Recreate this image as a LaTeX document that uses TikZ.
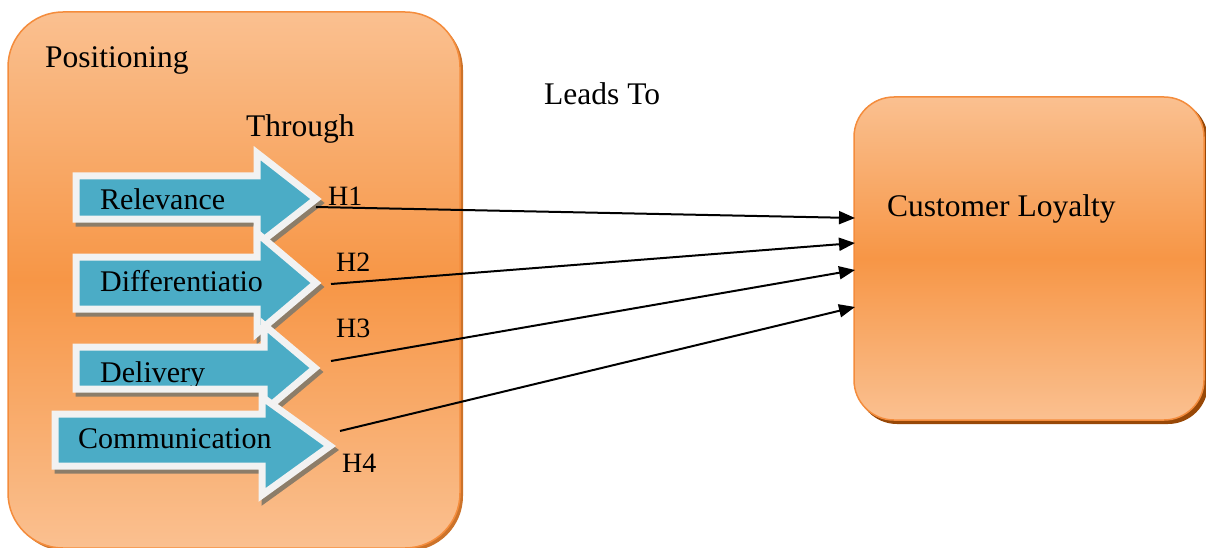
\documentclass[tikz,border=0pt]{standalone}
\usepackage{fontspec}
\setmainfont{Liberation Serif}
\usetikzlibrary{arrows.meta}
\definecolor{lorange}{RGB}{250,192,144}
\definecolor{morange}{RGB}{247,150,70}
\definecolor{borange}{RGB}{244,140,60}
\definecolor{shadowbrown}{RGB}{152,72,7}
\definecolor{arrowblue}{RGB}{75,172,198}
\definecolor{arrowrim}{RGB}{242,242,242}
\definecolor{arrowshadow}{RGB}{140,125,105}
\tikzset{
 panel/.style={draw=borange, line width=1.5pt, top color=lorange, bottom color=lorange, middle color=morange, rectangle},
 blockarrow/.style={draw=arrowrim, fill=arrowblue, line width=7pt, line join=miter},
 blockshadow/.style={draw=arrowshadow, fill=arrowshadow, line width=7pt, line join=miter},
 lbl/.style={font=\fontsize{31.5}{36}\selectfont, inner sep=0pt, anchor=base west},
 albl/.style={font=\fontsize{30}{34}\selectfont, inner sep=0pt, anchor=base west},
 hlbl/.style={font=\fontsize{28}{32}\selectfont, inner sep=0pt, anchor=base west},
 link/.style={line width=2pt, -{Triangle[length=16pt,width=13pt]}},
}
\newcommand\drawblockarrow[8]{%
 \draw[blockshadow, shift={(3,4)}] (#1,#2) -- (#4,#2) -- (#4,#5) -- (#7,#8) -- (#4,#6) -- (#4,#3) -- (#1,#3) -- cycle;
 \draw[blockarrow] (#1,#2) -- (#4,#2) -- (#4,#5) -- (#7,#8) -- (#4,#6) -- (#4,#3) -- (#1,#3) -- cycle;}
\begin{document}
\begin{tikzpicture}[x=1pt,y=-1pt]
\useasboundingbox (0,0) rectangle (1206,548);
% panels
\fill[shadowbrown!45!morange, rounded corners=55pt] (11,15) rectangle (463,551);
\node[panel, minimum width=452pt, minimum height=536pt, rounded corners=55pt] (pos) at (234,280) {};
\fill[shadowbrown, rounded corners=40pt] (857,100) rectangle (1208,424);
\node[panel, minimum width=350pt, minimum height=323pt, rounded corners=40pt] (cl) at (1029,258.5) {};
% block arrows
\drawblockarrow{76}{176}{219}{257}{153}{245}{316}{199}
\drawblockarrow{76}{257}{309}{257}{233}{333}{316}{283}
\drawblockarrow{76}{347}{389}{264}{325}{411}{315}{368}
\drawblockarrow{55}{414}{466}{262}{397}{495}{330}{446}
% texts
\node[lbl] (positioning) at (45,68) {Positioning};
\node[lbl] (through) at (246,137) {Through};
\node[lbl] (leads) at (544,105) {Leads To};
\node[lbl] (loyalty) at (887,216) {Customer Loyalty};
\node[albl] (rel) at (100,209) {Relevance};
\node[albl] (dif) at (100,291) {Differentiatio};
\begin{scope}
\clip (80,351) rectangle (262,385.5);
\node[albl] (del) at (100,382) {Delivery};
\end{scope}
\node[albl] (com) at (78,448) {Communication};
\node[hlbl] (h1) at (328,205) {H1};
\node[hlbl] (h2) at (336,271) {H2};
\node[hlbl] (h3) at (336,337) {H3};
\node[hlbl] (h4) at (342,472) {H4};
% connectors
\coordinate (s1) at (316,207);
\coordinate (s2) at (331,284);
\coordinate (s3) at (331,361);
\coordinate (s4) at (340,431);
\coordinate (e1) at (855,218);
\coordinate (e2) at (855,243);
\coordinate (e3) at (855,270);
\coordinate (e4) at (855,307);
\draw[link] (s1) -- (e1);
\draw[link] (s2) -- (e2);
\draw[link] (s3) -- (e3);
\draw[link] (s4) -- (e4);
\end{tikzpicture}
\end{document}
